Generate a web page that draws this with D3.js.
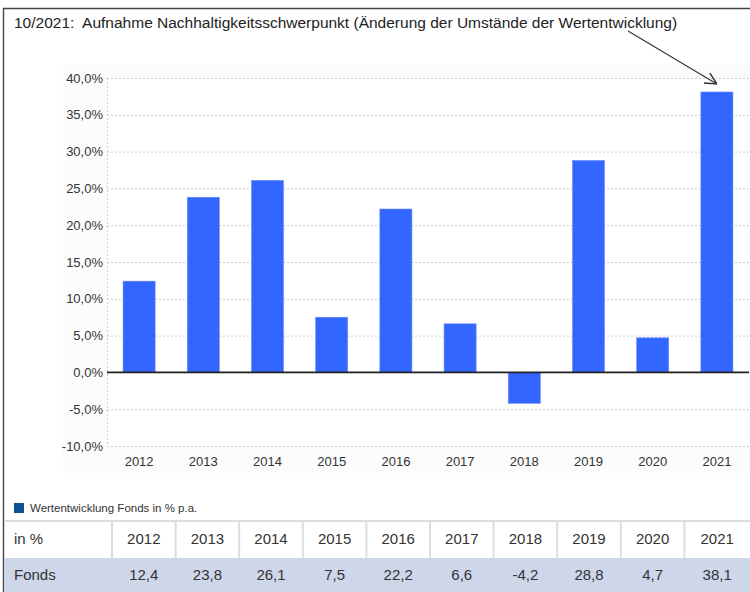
<!DOCTYPE html>
<html>
<head>
<meta charset="utf-8">
<script src="https://cdn.jsdelivr.net/npm/d3@7"></script>
<style>
  body { margin: 0; background: #fff; }
  svg { display: block; font-family: "Liberation Sans", Arial, sans-serif; }
</style>
</head>
<body>
<div id="chart"></div>
<script>
// data
const years = ["2012", "2013", "2014", "2015", "2016", "2017", "2018", "2019", "2020", "2021"];
const fondsValues = [12.4, 23.8, 26.1, 7.5, 22.2, 6.6, -4.2, 28.8, 4.7, 38.1];
const yTicks = [-10, -5, 0, 5, 10, 15, 20, 25, 30, 35, 40];
const titleText = "10/2021:  Aufnahme Nachhaltigkeitsschwerpunkt (Änderung der Umstände der Wertentwicklung)";
const legendLabel = "Wertentwicklung Fonds in % p.a.";
const rowHeader = "in %";
const rowLabel = "Fonds";

const width = 750, height = 592;

const de = d3.formatLocale({ decimal: ",", thousands: ".", grouping: [3], currency: ["", " €"], minus: "-" });
const fmtPct = v => de.format(".1f")(v) + "%";
const fmtVal = v => de.format(".1f")(v);

const svg = d3.select("#chart").append("svg")
  .attr("width", width)
  .attr("height", height);

// arrow marker
svg.append("defs").append("marker")
  .attr("id", "arrow")
  .attr("viewBox", "0 0 10 10")
  .attr("refX", 10).attr("refY", 5)
  .attr("markerWidth", 12).attr("markerHeight", 12)
  .attr("markerUnits", "userSpaceOnUse")
  .attr("orient", "auto")
  .append("path")
  .attr("d", "M0,0 L10,5 L0,10")
  .attr("fill", "none")
  .attr("stroke", "#333")
  .attr("stroke-width", 1.2);

// faint backdrop around plot
svg.append("rect")
  .attr("x", 63).attr("y", 65)
  .attr("width", width - 63).attr("height", 408)
  .attr("fill", "#fcfcfc");

var margin = { top: 78, right: 1, bottom: 146, left: 107 };
var plotW = width - margin.left - margin.right,
    plotH = height - margin.top - margin.bottom;

var g = svg.append("g")
  .attr("transform", "translate(" + margin.left + "," + margin.top + ")");

g.append("rect")
  .attr("width", plotW).attr("height", plotH)
  .attr("fill", "#fff");

var x = d3.scaleBand()
  .domain(years)
  .range([0, plotW])
  .paddingInner(0.5)
  .paddingOuter(0.25);

var y = d3.scaleLinear()
  .domain([-10, 40])
  .range([plotH, 0]);

// grid lines
var yAxis = d3.axisLeft(y)
  .tickValues(yTicks)
  .tickSize(-plotW)
  .tickPadding(4)
  .tickFormat(fmtPct);

var yg = g.append("g").attr("class", "y axis").call(yAxis);
yg.select(".domain").remove();
yg.selectAll(".tick line")
  .attr("stroke", "#ccc")
  .attr("stroke-dasharray", "2,2");
yg.selectAll(".tick text")
  .attr("fill", "#333")
  .attr("font-size", 13);

// vertical dotted axis line
g.append("line")
  .attr("x1", 0.5).attr("x2", 0.5)
  .attr("y1", 0).attr("y2", plotH)
  .attr("stroke", "#ccc")
  .attr("stroke-dasharray", "2,2");

// bars
g.selectAll("rect.bar")
  .data(fondsValues)
  .enter().append("rect")
  .attr("class", "bar")
  .attr("x", (d, i) => x(years[i]))
  .attr("width", x.bandwidth())
  .attr("y", d => y(Math.max(0, d)))
  .attr("height", d => Math.abs(y(d) - y(0)))
  .attr("fill", "#3366ff")
  .attr("stroke", "#6d8fff")
  .attr("stroke-width", 0.6);

// zero line
g.append("line")
  .attr("x1", 0).attr("x2", plotW)
  .attr("y1", y(0)).attr("y2", y(0))
  .attr("stroke", "#222")
  .attr("stroke-width", 1.6);

// x axis labels
var xAxis = d3.axisBottom(x).tickSize(0).tickPadding(11);
var xg = g.append("g")
  .attr("class", "x axis")
  .attr("transform", "translate(0," + plotH + ")")
  .call(xAxis);
xg.select(".domain").remove();
xg.selectAll("text")
  .attr("fill", "#333")
  .attr("font-size", 13);

// frame
svg.append("path")
  .attr("d", "M3.5," + height + " L3.5,8.5 L" + width + ",8.5")
  .attr("fill", "none")
  .attr("stroke", "#444")
  .attr("stroke-width", 1.4);

// title
svg.append("text")
  .attr("x", 14).attr("y", 28)
  .attr("font-size", 15.5)
  .attr("fill", "#222")
  .style("white-space", "pre")
  .text(titleText);

// annotation arrow to 2021
var last = years.length - 1;
svg.append("line")
  .attr("x1", 628).attr("y1", 31)
  .attr("x2", margin.left + x(years[last]) + x.bandwidth() / 2)
  .attr("y2", margin.top + y(40) + 6)
  .attr("stroke", "#333")
  .attr("stroke-width", 1.1)
  .attr("marker-end", "url(#arrow)");

// legend
svg.append("rect")
  .attr("x", 14).attr("y", 503)
  .attr("width", 10).attr("height", 10)
  .attr("fill", "#0b5394");
svg.append("text")
  .attr("x", 30).attr("y", 512)
  .attr("font-size", 11.5)
  .attr("fill", "#333")
  .text(legendLabel);

// table
var tTop = 521, rowH = 37;
var tx = d3.scaleBand()
  .domain(years)
  .range([112, 112 + 63.6 * years.length]);
var colLeft = d => tx(d);
var colRight = (d, i) => i === years.length - 1 ? width : tx(d) + tx.bandwidth();

svg.append("rect")
  .attr("x", 4).attr("y", tTop + rowH)
  .attr("width", width - 4).attr("height", height - tTop - rowH)
  .attr("fill", "#ced6ea");

svg.append("line")
  .attr("x1", 4).attr("x2", width)
  .attr("y1", tTop).attr("y2", tTop)
  .attr("stroke", "#ddd").attr("stroke-width", 2);

svg.selectAll("line.sep")
  .data(years)
  .enter().append("line")
  .attr("class", "sep")
  .attr("x1", d => colLeft(d)).attr("x2", d => colLeft(d))
  .attr("y1", tTop).attr("y2", tTop + rowH)
  .attr("stroke", "#ddd").attr("stroke-width", 2);

svg.append("text")
  .attr("x", 14).attr("y", tTop + 23)
  .attr("font-size", 15).attr("fill", "#333")
  .text(rowHeader);
svg.append("text")
  .attr("x", 14).attr("y", tTop + rowH + 22)
  .attr("font-size", 15).attr("fill", "#333")
  .text(rowLabel);

svg.selectAll("text.head")
  .data(years)
  .enter().append("text")
  .attr("class", "head")
  .attr("x", (d, i) => (colLeft(d) + colRight(d, i)) / 2)
  .attr("y", tTop + 23)
  .attr("text-anchor", "middle")
  .attr("font-size", 15).attr("fill", "#333")
  .text(d => d);

svg.selectAll("text.val")
  .data(fondsValues)
  .enter().append("text")
  .attr("class", "val")
  .attr("x", (d, i) => (colLeft(years[i]) + colRight(years[i], i)) / 2)
  .attr("y", tTop + rowH + 22)
  .attr("text-anchor", "middle")
  .attr("font-size", 15).attr("fill", "#333")
  .text(d => fmtVal(d));
</script>
</body>
</html>
